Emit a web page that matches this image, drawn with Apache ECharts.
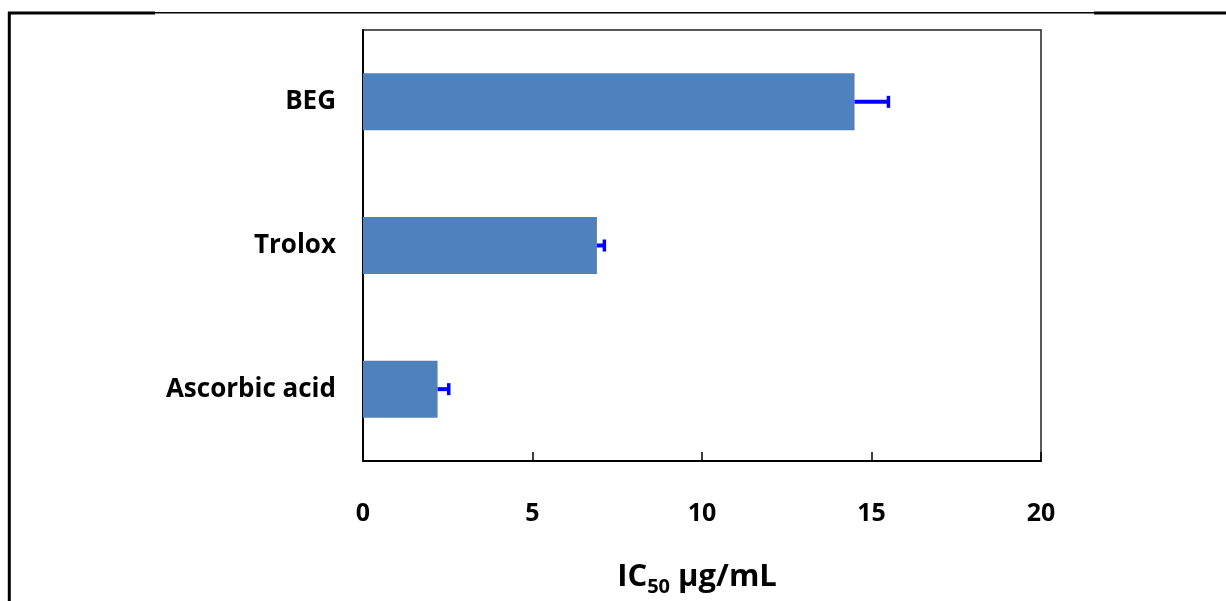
<!DOCTYPE html>
<html><head><meta charset="utf-8">
<script src="https://cdn.jsdelivr.net/npm/echarts@6/dist/echarts.min.js"></script>
<style>html,body{margin:0;padding:0;background:#fff}#c{width:1226px;height:601px}</style>
</head><body><div id="c"></div>
<script>
const categories = ['Ascorbic acid', 'Trolox', 'BEG'];
const values = [2.2, 6.9, 14.5];
const errors = [0.33, 0.22, 1.0];
const xTicks = [0, 5, 10, 15, 20];

const FONT = '"Open Sans", "Liberation Sans", sans-serif';
const chart = echarts.init(document.getElementById('c'), null, {renderer: 'canvas'});
chart.setOption({
  animation: false,
  backgroundColor: '#fff',
  grid: {left: 363, top: 30, width: 678, height: 431, show: true, borderColor: '#222', borderWidth: 1.5, containLabel: false, outerBoundsMode: 'none'},
  xAxis: {
    type: 'value', min: xTicks[0], max: xTicks[xTicks.length - 1], interval: 5,
    axisLine: {show: true, lineStyle: {color: '#000', width: 2}},
    axisTick: {show: true, inside: true, length: 9, lineStyle: {color: '#000', width: 1.5}},
    splitLine: {show: false},
    axisLabel: {margin: 40, color: '#000', fontWeight: 'bold', fontSize: 25, fontFamily: FONT},
    name: '{a|IC}{s|50}{a| μg/mL}', nameLocation: 'middle', nameGap: 96,
    nameTextStyle: {padding: [0, 10, 0, 0], rich: {
      a: {fontSize: 31, fontWeight: 'bold', color: '#000', fontFamily: FONT},
      s: {fontSize: 20, fontWeight: 'bold', color: '#000', fontFamily: FONT, verticalAlign: 'bottom', padding: [20, 0, 0, 0]}
    }}
  },
  yAxis: {
    type: 'category', data: categories,
    axisLine: {show: true, lineStyle: {color: '#000', width: 2}},
    axisTick: {show: false},
    axisLabel: {margin: 27, color: '#000', fontWeight: 'bold', fontSize: 26, fontFamily: FONT}
  },
  series: [
    {type: 'bar', data: values, barWidth: 57, itemStyle: {color: '#4F81BD'}, z: 2},
    {
      type: 'custom', z: 3,
      data: values.map((v, i) => [i, v, errors[i]]),
      encode: {x: 1, y: 0},
      renderItem: function (params, api) {
        const idx = api.value(0), v = api.value(1), e = api.value(2);
        const p0 = api.coord([v, idx]);
        const p1 = api.coord([v + e, idx]);
        return {type: 'group', children: [
          {type: 'line', shape: {x1: p0[0], y1: p0[1], x2: p1[0], y2: p1[1]}, style: {stroke: '#0000FF', lineWidth: 4}},
          {type: 'line', shape: {x1: p1[0], y1: p1[1] - 6, x2: p1[0], y2: p1[1] + 6}, style: {stroke: '#0000FF', lineWidth: 3.5}}
        ]};
      }
    }
  ],
  graphic: [
    {type: 'line', shape: {x1: 8, y1: 13, x2: 155, y2: 13}, style: {stroke: '#000', lineWidth: 3}},
    {type: 'line', shape: {x1: 155, y1: 12.8, x2: 1094, y2: 12.8}, style: {stroke: '#000', lineWidth: 1.5}},
    {type: 'line', shape: {x1: 1094, y1: 13, x2: 1226, y2: 13}, style: {stroke: '#000', lineWidth: 3}},
    {type: 'line', shape: {x1: 9.3, y1: 12, x2: 9.3, y2: 601}, style: {stroke: '#000', lineWidth: 3}}
  ]
});
</script></body></html>
